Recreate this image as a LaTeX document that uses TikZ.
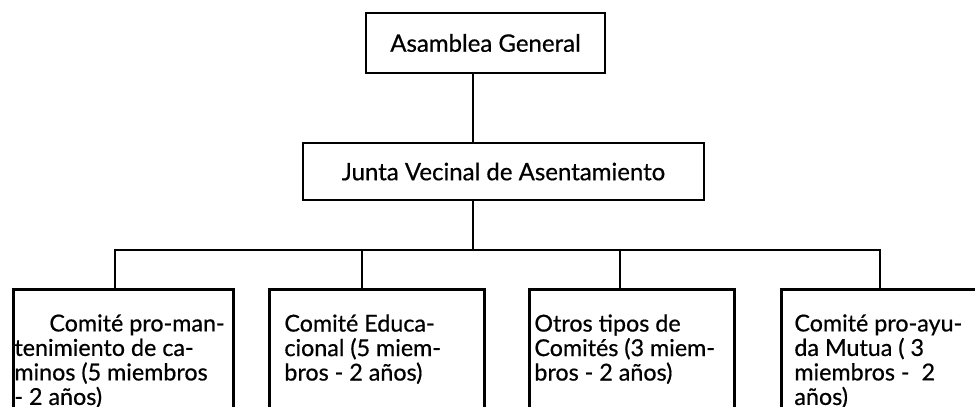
\documentclass[tikz,border=0pt]{standalone}
\usepackage{fontspec}
\newfontfamily\letra{Lato}[FakeBold=0.6]
\usetikzlibrary{positioning}
\begin{document}
\begin{tikzpicture}[x=1pt,y=-1pt,line width=2.8pt]
\tikzstyle{caja}=[draw,rectangle,inner sep=0pt,font=\letra\fontsize{24}{25}\selectfont]
\tikzstyle{comite}=[caja,anchor=north west,minimum height=140pt]
\tikzstyle{texto}=[align=left,inner sep=0pt,anchor=north west,font=\letra\fontsize{23.3}{24.5}\selectfont]
\useasboundingbox (0,0) rectangle (975,407);
\clip (0,0) rectangle (975,407);
\node[caja,minimum width=239pt,minimum height=60pt] (asamblea) at (485.5,43) {Asamblea General};
\node[caja,minimum width=401pt,minimum height=57pt] (junta) at (503.5,171.5) {Junta Vecinal de Asentamiento};
\node[comite,minimum width=220pt] (c1) at (12,288) {};
\node[comite,minimum width=215pt] (c2) at (268,288) {};
\node[comite,minimum width=205pt] (c3) at (528,288) {};
\node[comite,minimum width=220pt] (c4) at (780,288) {};
\node[texto] (t1) at ([xshift=1pt,yshift=-25pt]c1.north west)
  {\hspace*{35pt}Comité pro-man-\\tenimiento de ca-\\minos (5 miembros\\- 2 años)};
\node[texto] (t2) at ([xshift=15pt,yshift=-25pt]c2.north west)
  {Comité Educa-\\cional (5 miem-\\bros - 2 años)};
\node[texto] (t3) at ([xshift=5pt,yshift=-25pt]c3.north west)
  {Otros tipos de\\Comités (3 miem-\\bros - 2 años)};
\node[texto] (t4) at ([xshift=13pt,yshift=-25pt]c4.north west)
  {Comité pro-ayu-\\da Mutua ( 3\\miembros -~ 2\\años)};
\coordinate (bus) at (473,250);
\coordinate (b1) at (115,250);
\coordinate (b2) at (362,250);
\coordinate (b3) at (620,250);
\coordinate (b4) at (880,250);
\draw (asamblea.south -| bus) -- (junta.north -| bus);
\draw (junta.south -| bus) -- (bus);
\draw (c1.north -| b1) -- (b1) -- (b4) -- (c4.north -| b4);
\draw (b2) -- (c2.north -| b2);
\draw (b3) -- (c3.north -| b3);
\end{tikzpicture}
\end{document}
